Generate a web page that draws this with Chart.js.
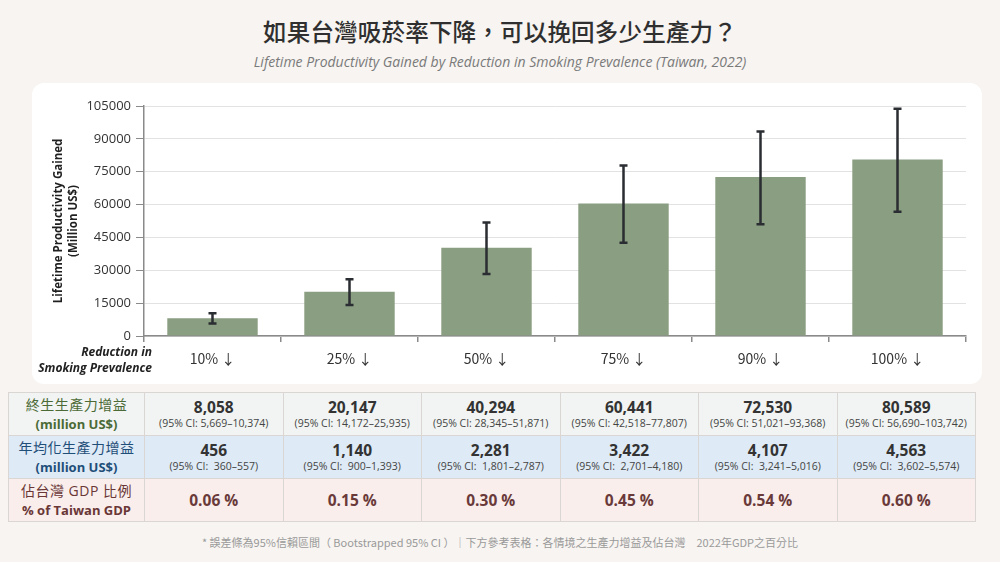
<!DOCTYPE html>
<html>
<head>
<meta charset="utf-8">
<script src="https://cdn.jsdelivr.net/npm/chart.js@4.4.1/dist/chart.umd.min.js"></script>
<style>
  body { margin: 0; width: 1000px; height: 562px; background: #f7f4f1; font-family: "Open Sans", "Noto Sans CJK TC", sans-serif; position: relative; overflow: hidden; }
  #title { position: absolute; top: 14px; left: 0; width: 1000px; text-align: center; font-family: "Noto Sans CJK TC", sans-serif; font-weight: 500; font-size: 23.5px; color: #2f2f2f; letter-spacing: 0.2px; }
  #subtitle { position: absolute; top: 52px; left: 0; width: 1000px; text-align: center; font-style: italic; font-size: 14px; color: #7a7a7a; }
  #card { position: absolute; left: 32px; top: 83px; width: 950px; height: 301px; background: #fff; border-radius: 12px; }
  #chartBox { position: absolute; left: 32px; top: 84px; width: 950px; height: 300px; }
  #xTitle { position: absolute; left: 20px; width: 132px; top: 344px; text-align: right; font-weight: 700; font-style: italic; font-size: 12px; line-height: 16px; color: #222; }
  table { position: absolute; left: 8px; top: 392px; width: 968px; border-collapse: collapse; table-layout: fixed; }
  td { border: 1px solid #d9d6d3; text-align: center; padding: 0; height: 42px; }
  td.head { width: 135px; font-size: 14px; line-height: 19px; letter-spacing: 0.5px; }
  .num { font-weight: 700; font-size: 15.5px; color: #333; line-height: 18px; }
  .ci { font-size: 10.5px; color: #444; line-height: 14px; }
  tr.r1 td { background: #f1f4f2; }
  tr.r2 td { background: #deeaf5; }
  tr.r3 td { background: #f9eeec; }
  tr.r1 td.head { color: #4b6a36; }
  tr.r2 td.head { color: #1f4e79; }
  tr.r3 td.head { color: #6a3636; }
  tr.r3 .num { color: #6a3a3a; }
  .b { font-weight: 700; font-size: 13px; letter-spacing: 0; }
  #note { position: absolute; top: 534px; left: 0; width: 1000px; text-align: center; font-family: "Noto Sans CJK TC", sans-serif; font-size: 11px; color: #9a9a9a; }
</style>
</head>
<body>
<div id="title">如果台灣吸菸率下降，可以挽回多少生產力？</div>
<div id="subtitle">Lifetime Productivity Gained by Reduction in Smoking Prevalence (Taiwan, 2022)</div>
<div id="card"></div>
<div id="chartBox"><canvas id="chart"></canvas></div>
<div id="xTitle">Reduction in<br>Smoking Prevalence</div>
<table id="tbl"></table>
<div id="note">* 誤差條為95%信賴區間（ Bootstrapped 95% CI ）｜下方參考表格：各情境之生產力增益及佔台灣　2022年GDP之百分比</div>
<script>
const categories = ['10% ↓', '25% ↓', '50% ↓', '75% ↓', '90% ↓', '100% ↓'];
const lifetime = [8058, 20147, 40294, 60441, 72530, 80589];
const lifetimeLow = [5669, 14172, 28345, 42518, 51021, 56690];
const lifetimeHigh = [10374, 25935, 51871, 77807, 93368, 103742];
const annual = [456, 1140, 2281, 3422, 4107, 4563];
const annualLow = [360, 900, 1801, 2701, 3241, 3602];
const annualHigh = [557, 1393, 2787, 4180, 5016, 5574];
const gdpShare = [0.06, 0.15, 0.30, 0.45, 0.54, 0.60];
const yMin = 0, yMax = 105000, yStep = 15000;

// table under the chart
const fmt = v => v.toLocaleString('en-US');
let html = '<tr class="r1"><td class="head">終生生產力增益<br><span class="b">(million US$)</span></td>';
lifetime.forEach((v, i) => {
  html += '<td><div class="num">' + fmt(v) + '</div><div class="ci">(95% CI: ' + fmt(lifetimeLow[i]) + '–' + fmt(lifetimeHigh[i]) + ')</div></td>';
});
html += '</tr><tr class="r2"><td class="head">年均化生產力增益<br><span class="b">(million US$)</span></td>';
annual.forEach((v, i) => {
  html += '<td><div class="num">' + fmt(v) + '</div><div class="ci">(95% CI:&nbsp; ' + fmt(annualLow[i]) + '–' + fmt(annualHigh[i]) + ')</div></td>';
});
html += '</tr><tr class="r3"><td class="head">佔台灣 GDP 比例<br><span class="b">% of Taiwan GDP</span></td>';
gdpShare.forEach(v => {
  html += '<td><div class="num">' + v.toFixed(2) + ' %</div></td>';
});
html += '</tr>';
document.getElementById('tbl').innerHTML = html;

// error bars from the CI arrays
const errorBars = {
  id: 'errorBars',
  afterDatasetsDraw(chart) {
    const ctx = chart.ctx;
    const x = chart.scales.x, y = chart.scales.y;
    ctx.save();
    ctx.strokeStyle = '#2a2d31';
    ctx.lineWidth = 2.5;
    lifetimeLow.forEach((lo, i) => {
      const px = x.getPixelForValue(i);
      const y1 = y.getPixelForValue(lo);
      const y2 = y.getPixelForValue(lifetimeHigh[i]);
      ctx.beginPath();
      ctx.moveTo(px, y1); ctx.lineTo(px, y2);
      ctx.moveTo(px - 4, y1); ctx.lineTo(px + 4, y1);
      ctx.moveTo(px - 4, y2); ctx.lineTo(px + 4, y2);
      ctx.stroke();
    });
    ctx.restore();
  }
};

const ctx = document.getElementById('chart').getContext('2d');
new Chart(ctx, {
  type: 'bar',
  data: {
    labels: categories,
    datasets: [{
      label: 'Lifetime Productivity Gained',
      data: lifetime,
      backgroundColor: '#8a9e82',
      categoryPercentage: 0.66,
      barPercentage: 1.0
    }]
  },
  options: {
    responsive: true,
    maintainAspectRatio: false,
    animation: false,
    layout: { padding: { left: 0, right: 16, top: 22, bottom: 8 } },
    plugins: {
      legend: { display: false },
      tooltip: { enabled: false }
    },
    scales: {
      x: {
        afterFit(scale) { scale.height = 40; },
        grid: { display: true, drawOnChartArea: false, drawTicks: true, tickLength: 6, offset: true, color: '#8a8a8a', lineWidth: 1.5 },
        border: { color: '#8a8a8a', width: 1.5 },
        ticks: { color: '#333', padding: 8, font: { family: '"Noto Sans CJK TC"', size: 14 } }
      },
      y: {
        min: yMin,
        max: yMax,
        afterFit(scale) { scale.width = 112; },
        grid: { color: '#e2e2e2', lineWidth: 1, tickLength: 8, tickColor: '#8a8a8a' },
        border: { color: '#8a8a8a', width: 1.5 },
        ticks: { stepSize: yStep, color: '#333', padding: 5, font: { family: 'Open Sans', size: 13 }, callback: v => String(v) },
        title: {
          display: true,
          text: ['Lifetime Productivity Gained', '(Million US$)'],
          color: '#1f1f1f',
          font: { family: 'Open Sans', size: 11.5, weight: 'bold', lineHeight: 1.3 },
          padding: { top: 19, bottom: 0 }
        }
      }
    }
  },
  plugins: [errorBars]
});
</script>
</body>
</html>
